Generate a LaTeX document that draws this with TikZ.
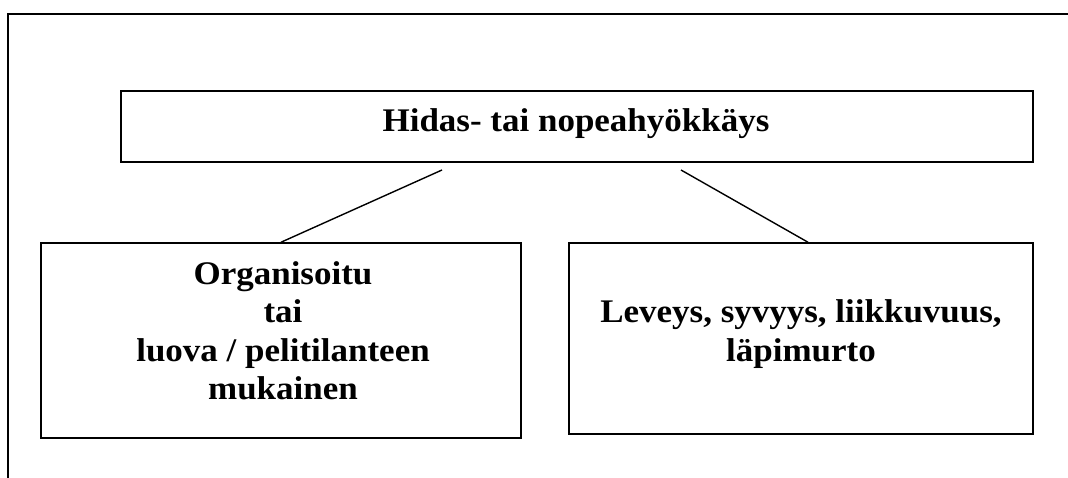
\documentclass[tikz,border=0pt]{standalone}
\usepackage{fontspec}
\setmainfont{Liberation Serif}[FakeStretch=1.06]
\begin{document}
\begin{tikzpicture}[x=1pt,y=-1pt,
  box/.style={draw=black,line width=1.5pt,rectangle,inner sep=0pt},
  lbl/.style={font=\fontsize{33}{38.5}\selectfont\bfseries,align=center,inner sep=0pt},
  link/.style={draw=black,line width=1.4pt}]
\useasboundingbox (0,0) rectangle (1068,478);
% page frame (top and left edges)
\draw[line width=1.5pt] (1068,14) -- (8,14) -- (8,478);
% boxes
\node[box,minimum width=912pt,minimum height=71pt] (top) at (577,126.5) {};
\node[box,minimum width=480pt,minimum height=195pt] (left) at (281,340.5) {};
\node[box,minimum width=464pt,minimum height=191pt] (right) at (801,338.5) {};
% texts
\node[lbl,anchor=base] (toptext) at (576,131.5) {Hidas- tai nopeahyökkäys};
\node[lbl] (lefttext) at (283,331) {Organisoitu\\tai\\luova / pelitilanteen\\mukainen};
\node[lbl] (righttext) at (801,334) {Leveys, syvyys, liikkuvuus,\\läpimurto};
% connectors
\coordinate (lstart) at (442,170);
\coordinate (rstart) at (681,170);
\draw[link] (lstart) -- (left.north);
\draw[link] (rstart) -- ([xshift=7pt]right.north);
\end{tikzpicture}
\end{document}
